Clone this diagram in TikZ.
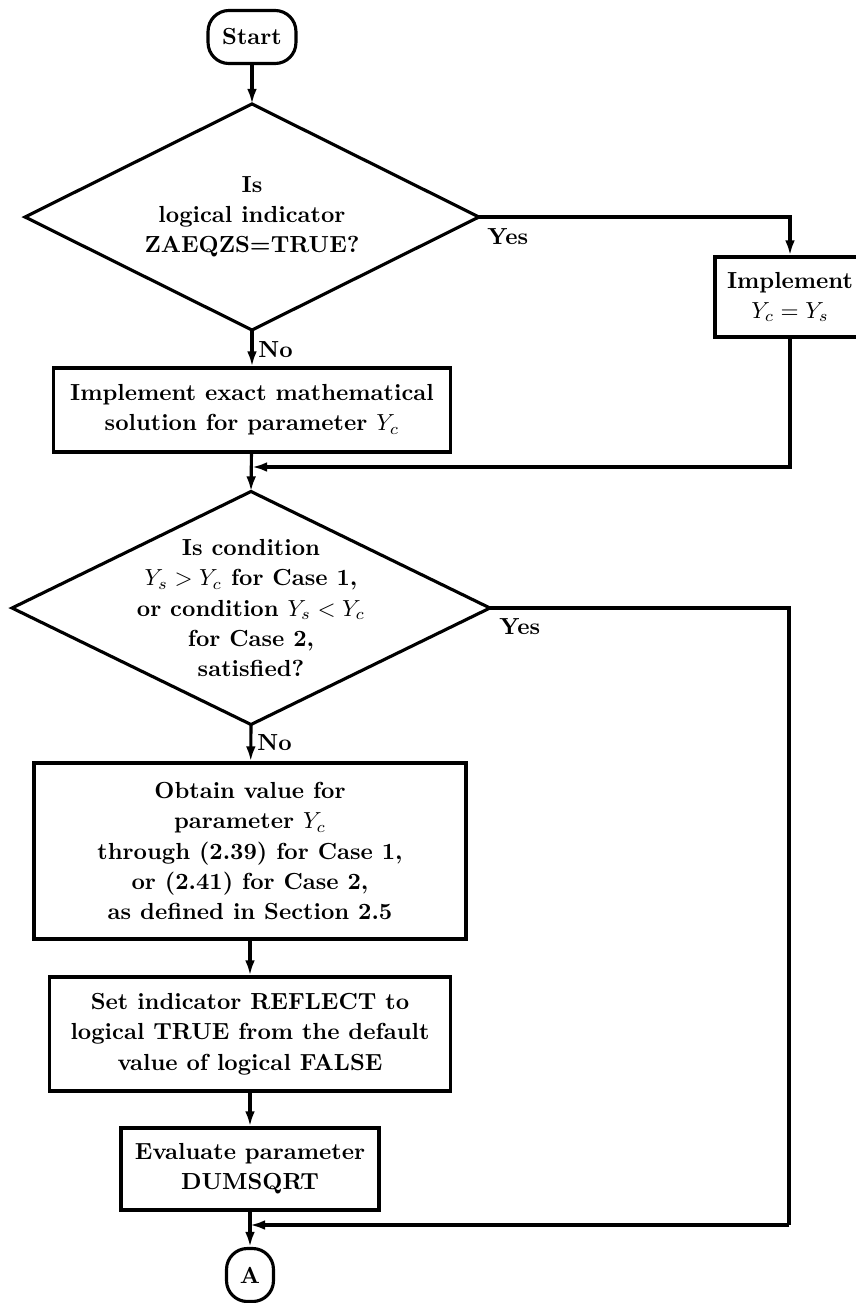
\documentclass[tikz,border=0pt]{standalone}
\usetikzlibrary{shapes.geometric,arrows.meta}
\begin{document}
\begin{tikzpicture}[x=0.43pt,y=-0.43pt,
  txt/.style={font=\fontsize{10}{13}\selectfont\bfseries},
  procbox/.style={txt,draw,line width=1.35pt,align=center,inner sep=2pt},
  termbox/.style={txt,draw,line width=1.35pt,rounded corners=9pt,inner sep=1pt},
  decbox/.style={draw,line width=1.35pt,shape=diamond,inner sep=0pt,outer sep=0pt},
  dectext/.style={txt,align=center,inner sep=0pt},
  arr/.style={line width=1.35pt,-{Latex[length=6.5pt,width=4.2pt]}},
  ln/.style={line width=1.35pt},
  lab/.style={txt,inner sep=0pt,anchor=west}]
\useasboundingbox (0,0) rectangle (856,1303);
\clip (0,0) rectangle (856,1303);
% nodes
\node[termbox,minimum width=37.8pt,minimum height=22.8pt] (start) at (252,37) {Start};
\node[decbox,minimum width=195.2pt,minimum height=97.2pt] (d1) at (252,217) {};
\node[dectext] (d1t) at (252,217) {Is\\logical indicator\\ZAEQZS=TRUE?};
\node[procbox,minimum width=64.5pt,minimum height=34.4pt] (impl) at (790,297)
  {Implement\\$Y_c = Y_s$};
\node[procbox,minimum width=170.7pt,minimum height=36.1pt] (b2) at (252,410)
  {Implement exact mathematical\\solution for parameter $Y_c$};
\coordinate (j1) at (252,467);
\node[decbox,minimum width=205.5pt,minimum height=100.2pt] (d2) at (251,608) {};
\node[dectext] (d2t) at (251,608)
  {Is condition\\$Y_s > Y_c$ for Case 1,\\or condition $Y_s < Y_c$\\for Case 2,\\satisfied?};
\node[procbox,minimum width=185.8pt,minimum height=75.7pt] (b3) at (250,851)
  {Obtain value for\\parameter $Y_c$\\through (2.39) for Case 1,\\or (2.41) for Case 2,\\as defined in Section 2.5};
\node[procbox,minimum width=172.4pt,minimum height=49.0pt] (b4) at (250,1034)
  {Set indicator REFLECT to\\logical TRUE from the default\\value of logical FALSE};
\node[procbox,minimum width=110.9pt,minimum height=35.3pt] (b5) at (250,1169)
  {Evaluate parameter\\DUMSQRT};
\coordinate (j2) at (250,1225);
\coordinate (r2) at (789,1225);
\node[termbox,minimum width=20.2pt,minimum height=22.8pt] (a) at (250,1275) {A};
% labels
\node[lab] (yes1) at (487,237) {Yes};
\node[lab] (no1) at (258,350) {No};
\node[lab] (yes2) at (499,627) {Yes};
\node[lab] (no2) at (257,743) {No};
% connectors
\draw[arr] (start) -- (d1.north);
\draw[arr] (d1.east) -| (impl.north);
\draw[arr] (d1.south) -- (b2);
\draw[arr] (impl.south) |- (j1);
\draw[arr] (b2) -- (d2.north);
\draw[arr] (d2.south) -- (b3);
\draw[arr] (b3) -- (b4);
\draw[arr] (b4) -- (b5);
\draw[arr] (b5) -- (a);
\draw[ln] (d2.east) -| (r2);
\draw[arr] (r2) -- (j2);
\end{tikzpicture}
\end{document}
